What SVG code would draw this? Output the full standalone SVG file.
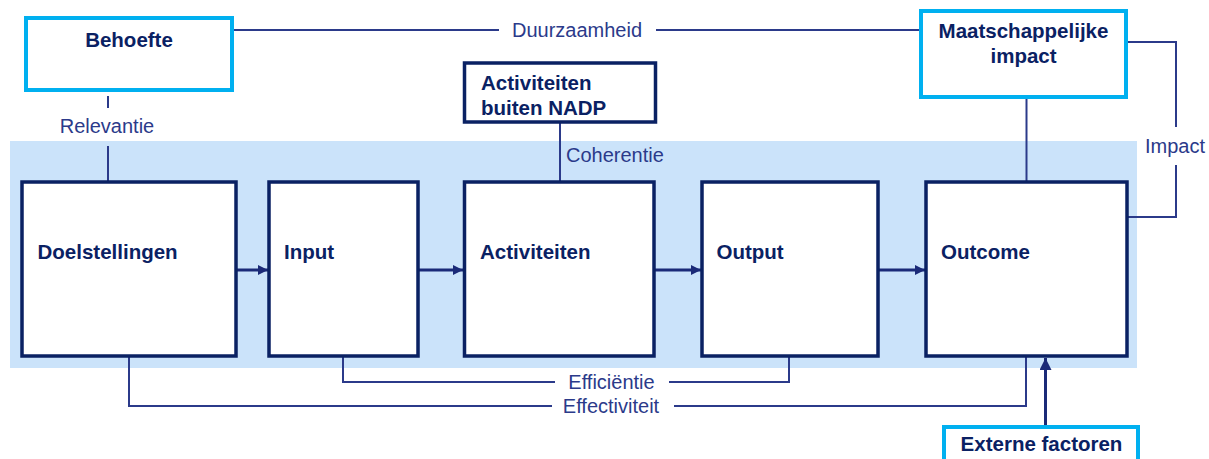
<svg xmlns="http://www.w3.org/2000/svg" width="1209" height="459" viewBox="0 0 1209 459">
<style>
.bg{fill:#CBE3FA}
.box{fill:#fff;stroke:#0A2163;stroke-width:3.5}
.cbox{fill:#fff;stroke:#00B0F0;stroke-width:4}
.t{font-family:"Liberation Sans",Arial,sans-serif;font-weight:bold;font-size:20.5px;fill:#0A2163}
.l{font-family:"Liberation Sans",Arial,sans-serif;font-size:20px;fill:#2B3A8A}
.c{fill:none;stroke:#2B3A8A;stroke-width:2}
.a{fill:none;stroke:#1B2A78;stroke-width:3}
</style>
<defs>
<marker id="ah" markerWidth="10" markerHeight="10" viewBox="0 0 10 10" refX="10" refY="5" orient="auto" markerUnits="userSpaceOnUse">
<path d="M0,0 L10,5 L0,10 z" fill="#1B2A78"/>
</marker>
<marker id="ah2" markerWidth="12" markerHeight="12" viewBox="0 0 12 12" refX="12" refY="6" orient="auto" markerUnits="userSpaceOnUse">
<path d="M0,0 L12,6 L0,12 z" fill="#1B2A78"/>
</marker>
</defs>
<rect class="bg" x="10" y="141" width="1127" height="227"/>
<g id="connectors">
<path class="c" d="M232,30 H499 M656,30 H921"/>
<path class="c" d="M108,96 V108 M108,146 V187"/>
<path class="c" d="M560,122 V182"/>
<path class="c" d="M1026.5,97 V182"/>
<path class="c" d="M1127,42 H1176 V127 M1176,165 V217 H1127"/>
<path class="c" d="M343,356 V382 H555 M669,382 H789 V356"/>
<path class="c" d="M129,356 V406 H552 M674,406 H1026 V356"/>
<path class="a" d="M236,270 H268" marker-end="url(#ah)"/>
<path class="a" d="M418,270 H463" marker-end="url(#ah)"/>
<path class="a" d="M654,270 H701" marker-end="url(#ah)"/>
<path class="a" d="M878,270 H925" marker-end="url(#ah)"/>
<path class="a" d="M1045.5,426 V358" marker-end="url(#ah2)"/>
<text class="l" x="577" y="37" text-anchor="middle">Duurzaamheid</text>
<text class="l" x="107" y="133" text-anchor="middle">Relevantie</text>
<text class="l" x="566" y="162">Coherentie</text>
<text class="l" x="1145" y="153">Impact</text>
<text class="l" x="611.5" y="389" text-anchor="middle">Efficiëntie</text>
<text class="l" x="611" y="413" text-anchor="middle">Effectiviteit</text>
</g>
<g id="behoefte">
<rect class="cbox" x="26" y="18" width="206" height="72"/>
<text class="t" x="129" y="47" text-anchor="middle">Behoefte</text>
</g>
<g id="maatschappelijke-impact">
<rect class="cbox" x="921" y="11" width="205" height="86"/>
<text class="t" x="1023.5" y="38" text-anchor="middle">Maatschappelijke</text>
<text class="t" x="1023.5" y="63" text-anchor="middle">impact</text>
</g>
<g id="activiteiten-buiten">
<rect class="box" x="464.5" y="63" width="191" height="59"/>
<text class="t" x="481" y="90">Activiteiten</text>
<text class="t" x="481" y="115">buiten NADP</text>
</g>
<g id="doelstellingen">
<rect class="box" x="22" y="182" width="214" height="174"/>
<text class="t" x="37.5" y="259">Doelstellingen</text>
</g>
<g id="input">
<rect class="box" x="269" y="182" width="149" height="174"/>
<text class="t" x="284" y="259">Input</text>
</g>
<g id="activiteiten">
<rect class="box" x="464.5" y="182" width="189.5" height="174"/>
<text class="t" x="480" y="259">Activiteiten</text>
</g>
<g id="output">
<rect class="box" x="702" y="182" width="176" height="174"/>
<text class="t" x="716.5" y="259">Output</text>
</g>
<g id="outcome">
<rect class="box" x="926" y="182" width="201" height="174"/>
<text class="t" x="941" y="259">Outcome</text>
</g>
<g id="externe-factoren">
<rect class="cbox" x="944" y="427" width="194" height="40"/>
<text class="t" x="1041.5" y="451" text-anchor="middle">Externe factoren</text>
</g>
</svg>
